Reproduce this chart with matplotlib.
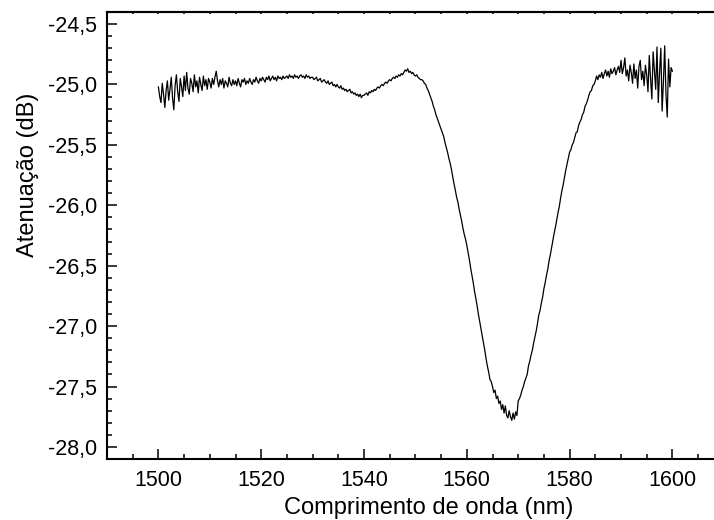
import numpy as np
import matplotlib
matplotlib.use("Agg")
import matplotlib.pyplot as plt
from matplotlib.ticker import MultipleLocator, FuncFormatter, NullFormatter

plt.rcParams["font.family"] = ["Liberation Sans", "DejaVu Sans"]

# wavelength grid start / step (nm) and attenuation (dB)
wl_start = 1500.0
wl_step = 0.25
atten = [
    # 1500
    -25.02, -25.10, -25.15, -24.99, -25.08, -25.19, -25.05, -24.97, -25.13, -25.04,
    -24.94, -25.11, -25.21, -25.01, -24.92, -25.06, -25.14, -24.95, -25.02, -25.10,
    # 1505
    -24.93, -25.05, -24.90, -25.03, -25.08, -24.95, -24.99, -25.06, -24.92, -25.02,
    -24.97, -25.07, -24.94, -25.00, -25.05, -24.93, -25.01, -24.96, -25.04, -24.95,
    # 1510
    -24.98, -25.03, -24.95, -25.00, -24.94, -24.89, -24.97, -25.02, -24.96, -25.00,
    -24.95, -25.03, -24.97, -24.99, -25.02, -24.94, -24.99, -25.01, -24.96, -25.00,
    # 1515
    -24.97, -25.01, -24.95, -24.99, -25.02, -24.96, -24.98, -24.95, -25.00, -24.97,
    -24.99, -24.95, -24.98, -25.00, -24.96, -24.98, -24.94, -24.97, -24.99, -24.95,
    # 1520
    -24.97, -24.94, -24.96, -24.98, -24.94, -24.96, -24.93, -24.97, -24.95, -24.93,
    -24.96, -24.94, -24.97, -24.93, -24.95, -24.94, -24.96, -24.93, -24.95, -24.94,
    # 1525
    -24.93, -24.95, -24.92, -24.94, -24.93, -24.95, -24.92, -24.94, -24.93, -24.95,
    -24.93, -24.92, -24.94, -24.93, -24.95, -24.92, -24.94, -24.93, -24.95, -24.94,
    # 1530
    -24.94, -24.96, -24.95, -24.94, -24.97, -24.96, -24.95, -24.98, -24.97, -24.96,
    -24.98, -24.99, -24.97, -25.00, -24.99, -24.98, -25.01, -25.00, -25.02, -25.00,
    # 1535
    -25.02, -25.03, -25.01, -25.04, -25.03, -25.05, -25.04, -25.06, -25.05, -25.04,
    -25.07, -25.06, -25.08, -25.07, -25.09, -25.08, -25.10, -25.08, -25.11, -25.09,
    # 1540
    -25.09, -25.08, -25.07, -25.09, -25.06, -25.07, -25.05, -25.06, -25.04, -25.05,
    -25.03, -25.02, -25.03, -25.01, -25.00, -25.01, -24.99, -24.98, -24.99, -24.97,
    # 1545
    -24.96, -24.97, -24.95, -24.94, -24.95, -24.93, -24.94, -24.92, -24.93, -24.91,
    -24.92, -24.90, -24.88, -24.89, -24.87, -24.90, -24.89, -24.91, -24.90, -24.92,
    # 1550
    -24.93, -24.92, -24.94, -24.95, -24.96, -24.96, -24.97, -24.99, -25.00, -25.03,
    -25.05, -25.08, -25.11, -25.14, -25.18, -25.21, -25.25, -25.28, -25.31, -25.34,
    # 1555
    -25.37, -25.40, -25.43, -25.48, -25.52, -25.56, -25.61, -25.65, -25.70, -25.76,
    -25.82, -25.87, -25.93, -25.97, -26.03, -26.08, -26.13, -26.19, -26.24, -26.28,
    # 1560
    -26.33, -26.39, -26.45, -26.52, -26.58, -26.64, -26.71, -26.77, -26.83, -26.90,
    -26.96, -27.02, -27.08, -27.14, -27.20, -27.27, -27.33, -27.38, -27.44, -27.46,
    # 1565
    -27.50, -27.55, -27.53, -27.60, -27.58, -27.64, -27.62, -27.69, -27.65, -27.72,
    -27.66, -27.74, -27.76, -27.70, -27.75, -27.78, -27.72, -27.77, -27.71, -27.74,
    # 1570
    -27.62, -27.60, -27.57, -27.53, -27.50, -27.46, -27.43, -27.40, -27.33, -27.29,
    -27.24, -27.20, -27.14, -27.09, -27.04, -26.98, -26.91, -26.87, -26.81, -26.76,
    # 1575
    -26.69, -26.64, -26.58, -26.53, -26.46, -26.41, -26.35, -26.29, -26.23, -26.18,
    -26.12, -26.06, -26.01, -25.94, -25.88, -25.83, -25.77, -25.71, -25.66, -25.61,
    # 1580
    -25.56, -25.54, -25.50, -25.48, -25.44, -25.40, -25.39, -25.34, -25.31, -25.29,
    -25.25, -25.23, -25.18, -25.16, -25.13, -25.09, -25.06, -25.05, -25.01, -25.00,
    # 1585
    -24.97, -24.93, -24.96, -24.92, -24.94, -24.90, -24.95, -24.91, -24.88, -24.93,
    -24.89, -24.94, -24.87, -24.91, -24.89, -24.86, -24.92, -24.88, -24.85, -24.90,
    # 1590
    -24.80, -24.91, -24.86, -24.78, -24.93, -24.88, -24.97, -24.84, -24.90, -24.99,
    -24.83, -24.95, -24.88, -25.03, -24.85, -24.80, -24.96, -24.89, -25.01, -24.84,
    # 1595
    -24.92, -25.06, -24.76, -24.95, -25.12, -24.73, -24.88, -25.04, -24.69, -25.15,
    -24.90, -24.70, -25.22, -24.98, -24.68, -25.08, -25.27, -24.79, -25.02, -24.86,
    # 1600
    -24.89,
]

wavelength = wl_start + wl_step * np.arange(len(atten))

fig = plt.figure(figsize=(7.14, 5.2), dpi=100)
# right spine sits outside the picture (chart is cropped on the right)
ax = fig.add_axes([107/714, 61/520, 616.8/714, 447/520])

ax.plot(wavelength, atten, color="black", lw=0.9)

ax.set_xlim(1490, 1610)
ax.set_ylim(-28.1, -24.4)

ax.xaxis.set_major_locator(MultipleLocator(20))
ax.xaxis.set_minor_locator(MultipleLocator(5))
ax.yaxis.set_major_locator(MultipleLocator(0.5))
ax.yaxis.set_minor_locator(MultipleLocator(0.1))
ax.yaxis.set_major_formatter(FuncFormatter(lambda v, p: ("%.1f" % v).replace(".", ",")))
ax.xaxis.set_major_formatter(FuncFormatter(lambda v, p: "%d" % v if v <= 1600 else ""))

ax.tick_params(which="major", direction="in", length=7.2, width=1.1, labelsize=15.5)
ax.tick_params(which="minor", direction="in", length=3.6, width=1.1)
ax.tick_params(axis="x", pad=8)
ax.tick_params(axis="y", pad=7)
for s in ax.spines.values():
    s.set_linewidth(1.5)
ax.spines["right"].set_visible(False)

# tiny ticks along the top frame
top = ax.secondary_xaxis("top")
top.xaxis.set_major_locator(MultipleLocator(5))
top.xaxis.set_major_formatter(NullFormatter())
top.tick_params(direction="in", length=1.5, width=1.1)
top.spines["top"].set_linewidth(1.5)

ax.set_xlabel("Comprimento de onda (nm)", fontsize=17)
ax.set_ylabel("Atenuação (dB)", fontsize=17)
ax.xaxis.set_label_coords(0.521, -0.085)
ax.yaxis.set_label_coords(-0.11, 0.635)

fig.savefig("out.png", dpi=100)
